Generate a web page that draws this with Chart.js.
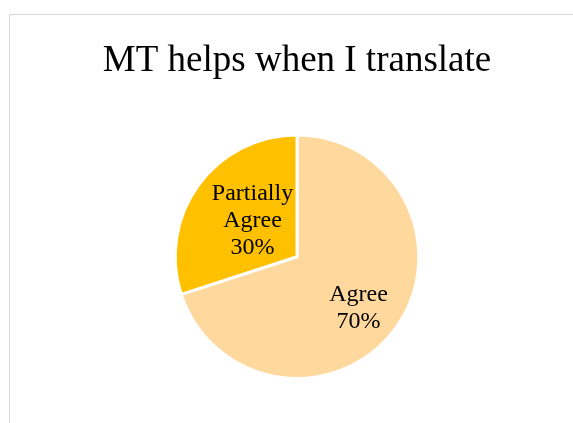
<!DOCTYPE html>
<html lang="en">
  <head>
    <meta charset="UTF-8" />
    <title>MT helps when I translate</title>
    <script src="https://cdn.jsdelivr.net/npm/chart.js"></script>
    <style>
      html, body { margin: 0; padding: 0; background: #fff; overflow: hidden; }
      #frame {
        position: absolute;
        left: 9px;
        top: 14px;
        width: 600px;
        height: 440px;
        border: 1px solid #d9d9d9;
        box-sizing: border-box;
      }
      #box {
        position: absolute;
        left: 10px;
        top: 15px;
        width: 574px;
        height: 408px;
      }
    </style>
  </head>
  <body>
    <div id="frame"></div>
    <div id="box"><canvas id="pieChart"></canvas></div>

    <script>
      const chartTitle = "MT helps when I translate";
      const categories = ["Agree", "Partially Agree"];
      const values = [70, 30];
      const colors = ["#FFD89E", "#FFC000"];

      // labels inside the slices: category words, one per line, then the percentage
      const sliceLabels = {
        id: "sliceLabels",
        afterDatasetsDraw(chart, args, opts) {
          const ctx = chart.ctx;
          const meta = chart.getDatasetMeta(0);
          const total = values.reduce((a, b) => a + b, 0);
          ctx.save();
          ctx.font = opts.font;
          ctx.fillStyle = "#000";
          ctx.textAlign = "center";
          ctx.textBaseline = "middle";
          meta.data.forEach((arc, i) => {
            const p = arc.getProps(["x", "y", "startAngle", "endAngle", "outerRadius"], true);
            const mid = (p.startAngle + p.endAngle) / 2 + (opts.angleShift[i] * Math.PI) / 180;
            const r = p.outerRadius * opts.radial[i];
            const cx = p.x + Math.cos(mid) * r;
            const cy = p.y + Math.sin(mid) * r;
            const lines = categories[i].split(" ");
            lines.push(Math.round((values[i] / total) * 100) + "%");
            const lh = opts.lineHeight;
            const y0 = cy - ((lines.length - 1) * lh) / 2;
            lines.forEach((t, k) => ctx.fillText(t, cx, y0 + k * lh));
          });
          ctx.restore();
        },
      };

      new Chart(document.getElementById("pieChart"), {
        type: "pie",
        data: {
          labels: categories,
          datasets: [
            {
              data: values,
              backgroundColor: colors,
              borderColor: "#ffffff",
              borderWidth: 3,
            },
          ],
        },
        options: {
          responsive: true,
          maintainAspectRatio: false,
          animation: false,
          layout: { padding: { top: 0, bottom: 43, left: 0, right: 0 } },
          plugins: {
            legend: { display: false },
            tooltip: { enabled: false },
            title: {
              display: true,
              text: chartTitle,
              color: "#000",
              font: { family: "'Liberation Serif', 'Times New Roman', serif", size: 37, weight: "normal" },
              padding: { top: 24, bottom: 50 },
            },
            sliceLabels: {
              font: "24px 'Liberation Serif', 'Times New Roman', serif",
              lineHeight: 27,
              radial: [0.66, 0.47],
              angleShift: [4, 3],
            },
          },
        },
        plugins: [sliceLabels],
      });
    </script>
  </body>
</html>
